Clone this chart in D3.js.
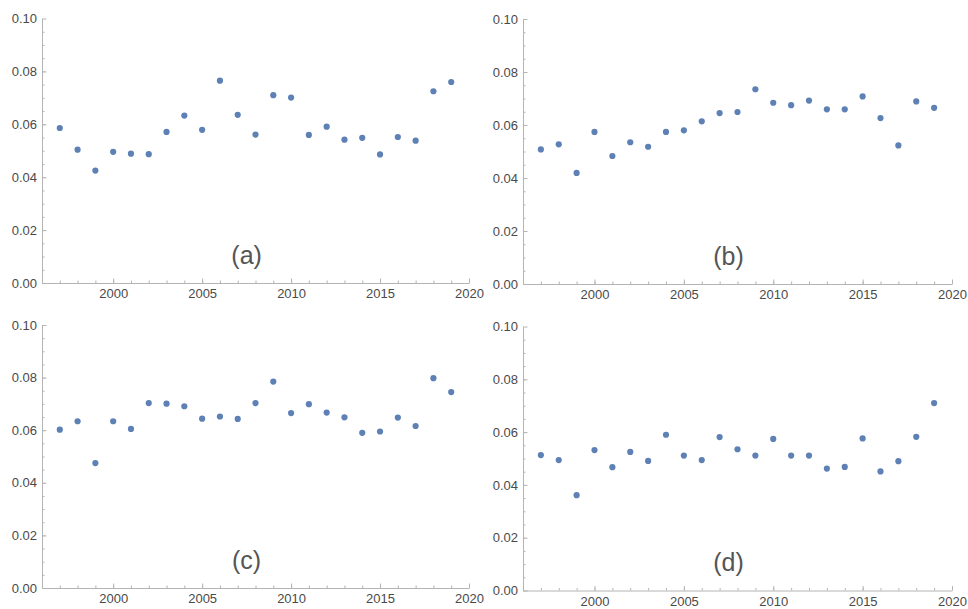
<!DOCTYPE html>
<html>
<head>
<meta charset="utf-8">
<script src="https://cdn.jsdelivr.net/npm/d3@7"></script>
<style>
  body { margin: 0; background: #fff; }
  svg { display: block; font-family: "Liberation Sans", Arial, sans-serif; }
</style>
</head>
<body>
<svg id="chart" width="968" height="609"></svg>
<script>
// data
var years = d3.range(1997, 2020);
var seriesA = [0.0586, 0.0504, 0.0425, 0.0496, 0.0489, 0.0487, 0.0571, 0.0633, 0.0579, 0.0765, 0.0636, 0.0561,
               0.0710, 0.0701, 0.0560, 0.0591, 0.0542, 0.0549, 0.0486, 0.0552, 0.0538, 0.0725, 0.0760];
var seriesB = [0.0508, 0.0527, 0.0419, 0.0574, 0.0483, 0.0535, 0.0518, 0.0574, 0.0580, 0.0614, 0.0645, 0.0649,
               0.0735, 0.0684, 0.0675, 0.0692, 0.0659, 0.0659, 0.0708, 0.0626, 0.0523, 0.0689, 0.0665];
var seriesC = [0.0602, 0.0634, 0.0475, 0.0634, 0.0605, 0.0703, 0.0701, 0.0691, 0.0644, 0.0652, 0.0643, 0.0703,
               0.0785, 0.0665, 0.0699, 0.0667, 0.0649, 0.0590, 0.0595, 0.0648, 0.0616, 0.0798, 0.0745];
var seriesD = [0.0513, 0.0494, 0.0361, 0.0532, 0.0467, 0.0525, 0.0491, 0.0590, 0.0511, 0.0494, 0.0581, 0.0535,
               0.0511, 0.0574, 0.0511, 0.0511, 0.0462, 0.0468, 0.0576, 0.0451, 0.0490, 0.0582, 0.0710];
var panelLabels = ["(a)", "(b)", "(c)", "(d)"];
var xTicks = [2000, 2005, 2010, 2015, 2020];
var yTicks = [0, 0.02, 0.04, 0.06, 0.08, 0.10];

var svg = d3.select("#chart");
var axisColor = "#b4b4b4", textColor = "#4a4a4a", dotColor = "#5e81b5";

var panels = [
  {values: seriesA, x0: 42, x1: 469, y0: 18.5, y1: 283},
  {values: seriesB, x0: 523, x1: 952, y0: 19, y1: 284},
  {values: seriesC, x0: 42, x1: 469, y0: 325, y1: 588},
  {values: seriesD, x0: 523, x1: 952, y0: 326.5, y1: 590.5}
];

function drawPanel(p, label) {
  var x = d3.scaleLinear().domain([1996, 2020]).range([p.x0, p.x1]);
  var y = d3.scaleLinear().domain([0, 0.10]).range([p.y1, p.y0]);
  var g = svg.append("g");

  // minor ticks first
  g.append("g").attr("transform", "translate(0," + p.y1 + ")")
    .call(d3.axisBottom(x).tickValues(d3.range(1997, 2020)).tickSize(-2.5).tickFormat(""))
    .call(function(a) { a.select(".domain").remove(); a.selectAll("line").attr("stroke", axisColor); });
  g.append("g").attr("transform", "translate(" + p.x0 + ",0)")
    .call(d3.axisLeft(y).tickValues(d3.range(0.005, 0.1, 0.005)).tickSize(-2.5).tickFormat(""))
    .call(function(a) { a.select(".domain").remove(); a.selectAll("line").attr("stroke", axisColor); });

  var xa = g.append("g").attr("transform", "translate(0," + p.y1 + ")")
    .call(d3.axisBottom(x).tickValues(xTicks).tickSize(-4.5).tickSizeOuter(0).tickPadding(6).tickFormat(d3.format("d")));
  var ya = g.append("g").attr("transform", "translate(" + p.x0 + ",0)")
    .call(d3.axisLeft(y).tickValues(yTicks).tickSize(-4.5).tickSizeOuter(0).tickPadding(5).tickFormat(d3.format(".2f")));
  [xa, ya].forEach(function(a) {
    a.select(".domain").attr("stroke", axisColor);
    a.selectAll("line").attr("stroke", axisColor);
    a.selectAll("text").attr("fill", textColor).attr("font-size", 13)
      .attr("font-family", "\"Liberation Sans\", Arial, sans-serif");
  });

  g.selectAll("circle").data(p.values).enter().append("circle")
    .attr("cx", function(d, i) { return x(years[i]); })
    .attr("cy", function(d) { return y(d); })
    .attr("r", 3.1)
    .attr("fill", dotColor);

  g.append("text").attr("x", x(2007.5)).attr("y", y(0.0098))
    .attr("text-anchor", "middle").attr("dominant-baseline", "middle")
    .attr("font-size", 25).attr("fill", "#555").text(label);
}

panels.forEach(function(p, i) { drawPanel(p, panelLabels[i]); });
</script>
</body>
</html>
